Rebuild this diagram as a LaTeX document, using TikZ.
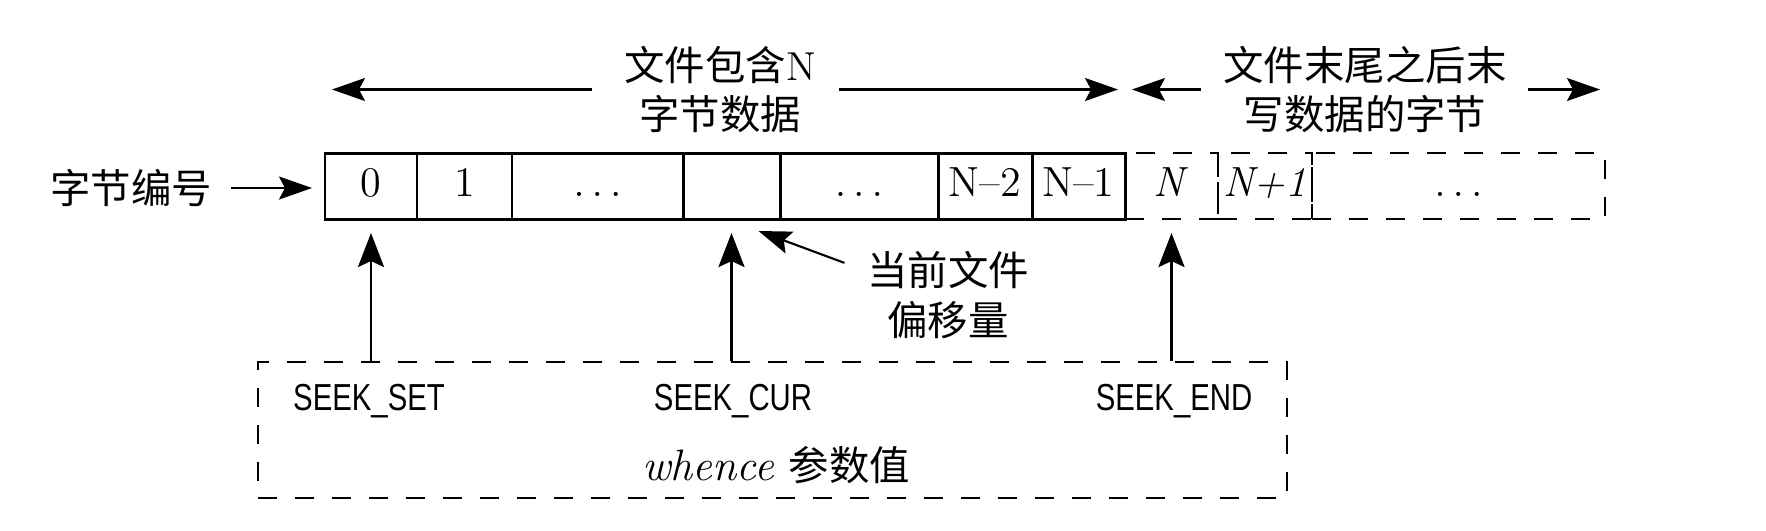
\documentclass[tikz,border=0pt]{standalone}
\usepackage{fontspec}
\newfontfamily\cjk{Noto Sans CJK SC}
\newfontfamily\seekfont[FakeStretch=0.78]{Liberation Sans}
\usetikzlibrary{arrows.meta, positioning}
\tikzstyle{cell} = [rectangle, draw=black, line width=0.85pt, minimum height=0.66cm, inner sep=0pt, outer sep=0pt, text height=1.6ex, text depth=0.25ex, font=\fontsize{12}{14}\selectfont]
\tikzstyle{tailcell} = [cell, line width=0.8pt, dash pattern=on 0.19cm off 0.18cm]
\tikzstyle{zhlabel} = [align=center, inner sep=0pt, font=\fontsize{11.5}{14}\selectfont\cjk]
\tikzstyle{seek} = [inner sep=0pt, font=\fontsize{10.7}{12}\selectfont\seekfont]
\tikzstyle{arrow} = [line width=0.6pt, -{Stealth[length=3.3mm, width=2.3mm, inset=0.6mm]}]
\tikzstyle{uparrow} = [line width=0.8pt, -{Stealth[length=3.4mm, width=2.6mm, inset=0.6mm]}]

\begin{document}
\begin{tikzpicture}
\useasboundingbox (0,0) rectangle (17.66,-5.30);

% bytes of the file
\node (c0) [cell, minimum width=0.92cm, anchor=west] at (3.25,-1.86) {0};
\node (c1) [cell, minimum width=0.95cm, right=0pt of c0] {1};
\node (c2) [cell, minimum width=1.71cm, right=0pt of c1] {$\ldots$};
\node (c3) [cell, minimum width=0.97cm, right=0pt of c2] {};
\node (c4) [cell, minimum width=1.58cm, right=0pt of c3] {$\ldots$};
\node (c5) [cell, minimum width=0.94cm, right=0pt of c4] {N--2};
\node (c6) [cell, minimum width=0.93cm, right=0pt of c5] {N--1};
% bytes after the end
\node (t1) [tailcell, minimum width=0.93cm, right=0pt of c6] {\textit{N}};
\node (t2) [tailcell, minimum width=0.94cm, right=0pt of t1] {\textit{N+1}};
\node (t3) [tailcell, minimum width=2.93cm, right=0pt of t2] {$\ldots$};

\node (numlabel) [zhlabel] at (1.31,-1.88) {字节编号};
\node (inlabel) [zhlabel] at (7.20,-0.895) {文件包含{\rmfamily N}\\字节数据};
\node (outlabel) [zhlabel] at (13.65,-0.895) {文件末尾之后末\\写数据的字节};
\node (offlabel) [zhlabel] at (9.48,-2.95) {当前文件\\偏移量};

% whence values
\node (whencebox) [rectangle, draw=black, line width=0.8pt, dash pattern=on 0.19cm off 0.18cm, minimum width=10.29cm, minimum height=1.36cm] at (7.725,-4.30) {};
\node (set) [seek] at (3.69,-4.01) {SEEK\_SET};
\node (cur) [seek] at (7.33,-4.01) {SEEK\_CUR};
\node (end) [seek] at (11.74,-4.01) {SEEK\_END};
\node (whence) [inner sep=0pt] at (7.76,-4.65) {\fontsize{12.5}{14}\selectfont\textit{whence}\ {\fontsize{11.5}{14}\selectfont\cjk 参数值}};

\draw [arrow] ([xshift=0.18cm]numlabel.east) -- ([xshift=-0.13cm]c0.west |- numlabel.east);
\draw [arrow] ([xshift=-0.32cm]inlabel.west) -- ([xshift=0.07cm]c0.west |- inlabel.west);
\draw [arrow] ([xshift=0.23cm]inlabel.east) -- ([xshift=-0.07cm]c6.east |- inlabel.east);
\draw [arrow] ([xshift=-0.22cm]outlabel.west) -- ([xshift=0.07cm]t1.west |- outlabel.west);
\draw [arrow] ([xshift=0.21cm]outlabel.east) -- ([xshift=-0.05cm]t3.east |- outlabel.east);
\draw [arrow] ([xshift=-0.22cm, yshift=-0.12cm]offlabel.north west) -- ([xshift=0.27cm, yshift=-0.12cm]c3.south);

\draw [uparrow] (c0 |- whencebox.north) -- ([yshift=-0.14cm]c0.south);
\draw [uparrow] (c3 |- whencebox.north) -- ([yshift=-0.14cm]c3.south);
\draw [uparrow] (t1 |- whencebox.north) -- ([yshift=-0.14cm]t1.south);
\end{tikzpicture}
\end{document}
